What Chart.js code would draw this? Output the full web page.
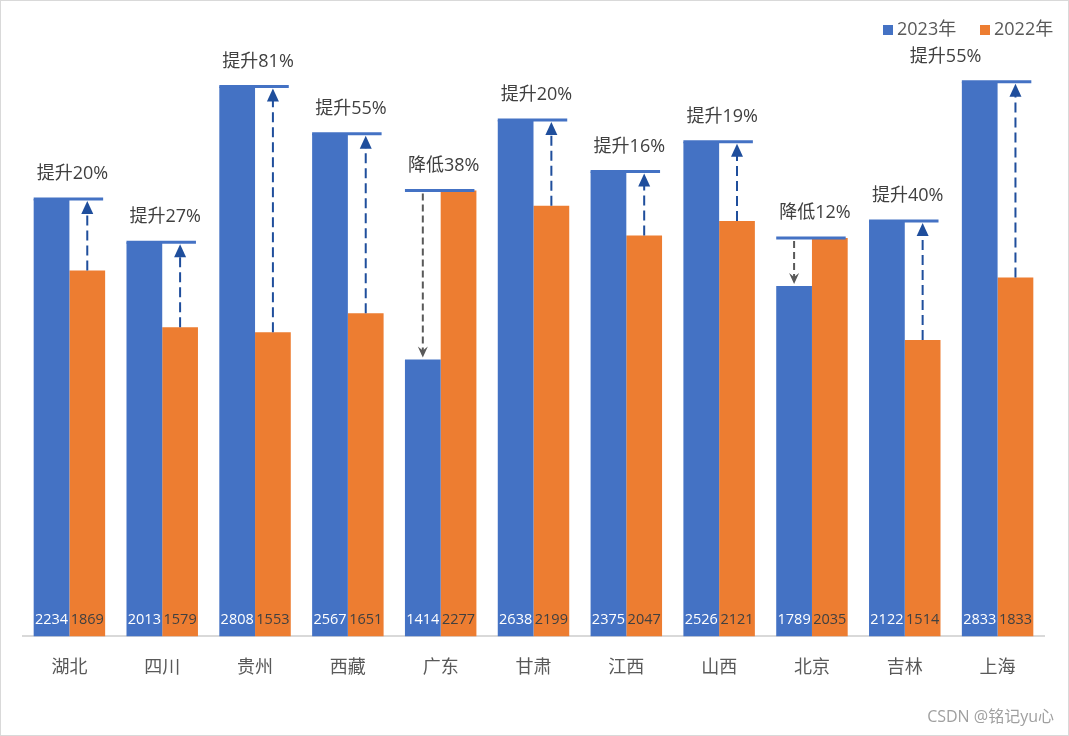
<!DOCTYPE html>
<html><head><meta charset="utf-8">
<script src="https://cdn.jsdelivr.net/npm/chart.js@4"></script>
<style>html,body{margin:0;padding:0;background:#fff}</style>
</head><body>
<canvas id="c" width="1069" height="736" style="display:block"></canvas>
<script>
const categories = ['湖北','四川','贵州','西藏','广东','甘肃','江西','山西','北京','吉林','上海'];
const values2023 = [2234,2013,2808,2567,1414,2638,2375,2526,1789,2122,2833];
const values2022 = [1869,1579,1553,1651,2277,2199,2047,2121,2035,1514,1833];
const seriesNames = ['2023年','2022年'];
const upWord = '提升', downWord = '降低';
const watermark = 'CSDN @铭记yu心';

const FONT = '"Open Sans", "Noto Sans CJK SC", sans-serif';
const BLUE = '#4472C4', ORANGE = '#ED7D31';

const changePlugin = {
  id: 'changeMarks',
  afterDatasetsDraw(chart, args, opts) {
    const ctx = chart.ctx;
    const ys = chart.scales.y;
    const m0 = chart.getDatasetMeta(0), m1 = chart.getDatasetMeta(1);
    const base = ys.getPixelForValue(0);
    ctx.save();
    categories.forEach((c, i) => {
      const b = m0.data[i], o = m1.data[i];
      const bl = b.x - b.width / 2, orr = o.x + o.width / 2;
      const v23 = values2023[i], v22 = values2022[i];
      const up = v23 >= v22;
      const topY = ys.getPixelForValue(Math.max(v23, v22));
      ctx.setLineDash([]);
      ctx.strokeStyle = BLUE; ctx.lineWidth = 3;
      ctx.beginPath(); ctx.moveTo(bl, topY); ctx.lineTo(orr - 2, topY); ctx.stroke();
      if (up) {
        const x = o.x, y0 = ys.getPixelForValue(v22);
        ctx.strokeStyle = '#1F4E9C'; ctx.lineWidth = 2; ctx.setLineDash([10, 5]);
        ctx.beginPath(); ctx.moveTo(x, y0); ctx.lineTo(x, topY + 12); ctx.stroke();
        ctx.setLineDash([]); ctx.fillStyle = '#1F4E9C';
        ctx.beginPath(); ctx.moveTo(x, topY + 2); ctx.lineTo(x - 6, topY + 15); ctx.lineTo(x + 6, topY + 15); ctx.closePath(); ctx.fill();
      } else {
        const x = b.x, y1 = ys.getPixelForValue(v23);
        ctx.strokeStyle = '#595959'; ctx.lineWidth = 2; ctx.setLineDash([7, 4]);
        ctx.beginPath(); ctx.moveTo(x, topY + 3); ctx.lineTo(x, y1 - 3); ctx.stroke();
        ctx.setLineDash([]); ctx.fillStyle = '#595959';
        ctx.beginPath(); ctx.moveTo(x, y1 - 2); ctx.lineTo(x - 5, y1 - 13); ctx.lineTo(x, y1 - 9); ctx.lineTo(x + 5, y1 - 13); ctx.closePath(); ctx.fill();
      }
      const pct = Math.round(Math.abs(v23 / v22 - 1) * 100);
      const txt = (up ? upWord : downWord) + pct + '%';
      let lx = (bl + orr) / 2 + 3, ly = topY - 25;
      if (i === opts.shiftIndex) { lx += opts.shiftX; ly += opts.shiftY; }
      ctx.font = '18px ' + FONT; ctx.fillStyle = '#404040';
      ctx.textAlign = 'center'; ctx.textBaseline = 'middle';
      ctx.fillText(txt, lx, ly);
      ctx.font = '14.5px ' + FONT;
      ctx.fillStyle = '#FFFFFF'; ctx.fillText(String(v23), b.x, base - 17);
      ctx.fillStyle = '#404040'; ctx.fillText(String(v22), o.x, base - 17);
    });
    ctx.restore();
  },
  afterDraw(chart) {
    const ctx = chart.ctx;
    ctx.save();
    ctx.font = '18px ' + FONT; ctx.textBaseline = 'middle'; ctx.textAlign = 'left';
    const items = [[seriesNames[0], BLUE, 883], [seriesNames[1], ORANGE, 980]];
    items.forEach(([t, col, x]) => {
      ctx.fillStyle = col; ctx.fillRect(x, 25, 10, 10);
      ctx.fillStyle = '#595959'; ctx.fillText(t, x + 14, 30);
    });
    ctx.font = '16px ' + FONT; ctx.fillStyle = '#A0A0A0'; ctx.textAlign = 'right';
    ctx.fillText(watermark, 1054, 717);
    ctx.strokeStyle = '#D9D9D9'; ctx.lineWidth = 1;
    ctx.strokeRect(0.5, 0.5, 1068, 735);
    ctx.restore();
  }
};

new Chart(document.getElementById('c'), {
  type: 'bar',
  data: {
    labels: categories,
    datasets: [
      { label: seriesNames[0], data: values2023, backgroundColor: BLUE, categoryPercentage: 0.77, barPercentage: 1.0 },
      { label: seriesNames[1], data: values2022, backgroundColor: ORANGE, categoryPercentage: 0.77, barPercentage: 1.0 }
    ]
  },
  options: {
    responsive: false,
    animation: false,
    layout: { padding: { top: 49, left: 23, right: 25, bottom: 36 } },
    plugins: {
      legend: { display: false },
      tooltip: { enabled: false },
      changeMarks: { shiftIndex: 10, shiftX: -55, shiftY: 0 }
    },
    scales: {
      x: {
        grid: { display: false, drawTicks: false },
        border: { display: true, color: '#D9D9D9', width: 2 },
        ticks: { color: '#595959', font: { size: 18, family: FONT }, padding: 21 }
      },
      y: { display: false, min: 0, max: 3000 }
    }
  },
  plugins: [changePlugin]
});
</script>
</body></html>
